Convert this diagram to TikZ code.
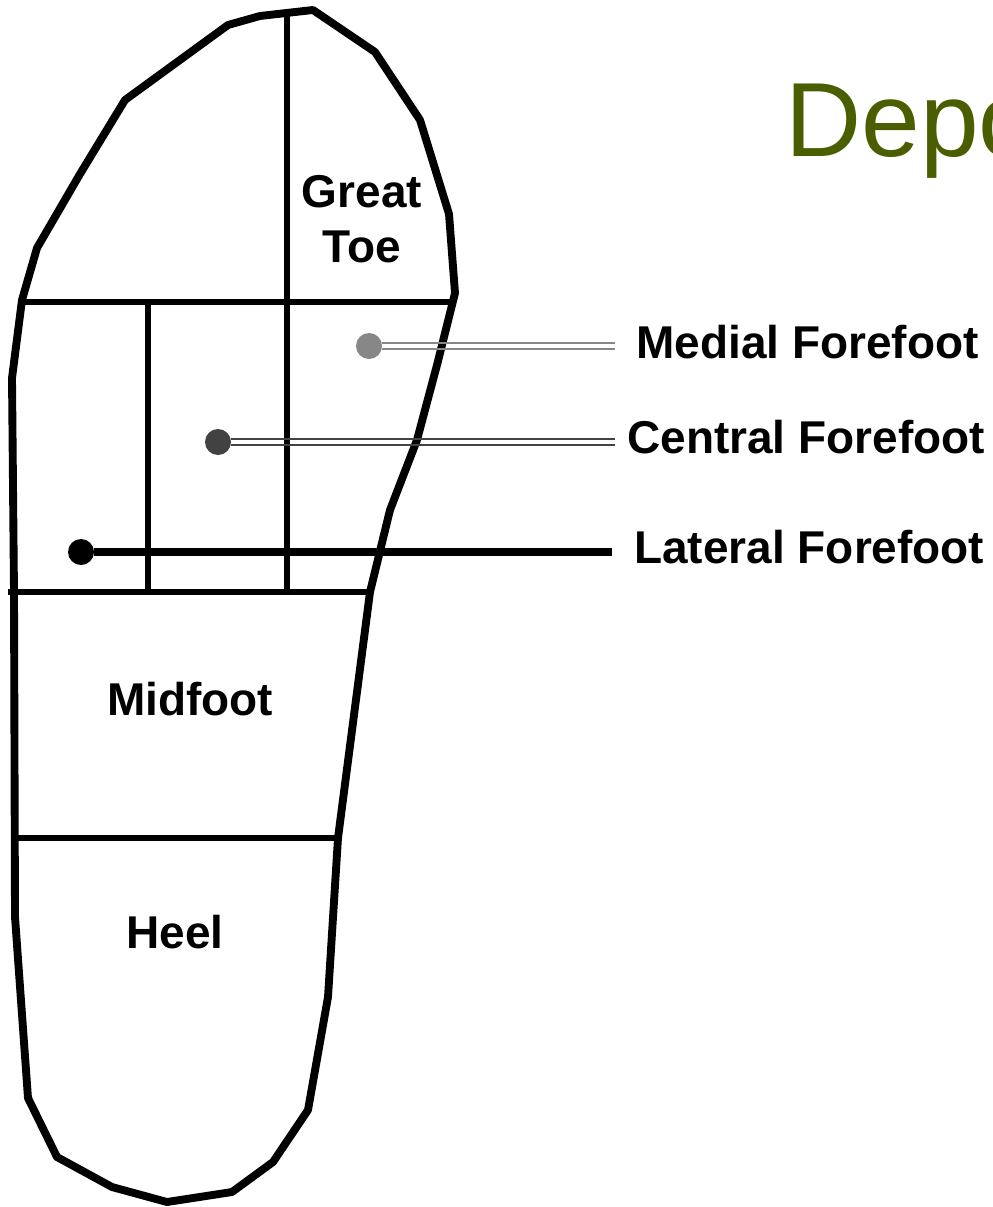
\documentclass[tikz,border=0pt]{standalone}
\usepackage{fontspec}
\setmainfont{Liberation Sans}
\definecolor{depogreen}{HTML}{4A5E00}
\definecolor{medgray}{HTML}{878787}
\definecolor{cengray}{HTML}{424242}

\begin{document}
\begin{tikzpicture}[x=0.025cm, y=-0.025cm, line join=round,
    soleline/.style={line width=5.6pt},
    zoneline/.style={line width=4.2pt},
    zonelabel/.style={font=\bfseries\fontsize{32.7}{39}\selectfont, inner sep=0pt, align=center},
    spot/.style={circle, inner sep=0pt, minimum size=0.65cm},
    leader/.style={line width=1.5pt}]
    % 枠
    \path[use as bounding box, fill=white] (0,0) rectangle (992,1207);
    \clip (0,0) rectangle (992,1207);

    % タイトル (右端で切れる)
    \node[anchor=base west, inner sep=0pt, text=depogreen, font=\fontsize{75}{90}\selectfont] (title) at (785,157) {Depo};

    % 足の輪郭
    \draw[soleline] (313,10) -- (375,52) -- (420,120) -- (449,214) -- (455,293)
        -- (437,365) -- (417,440) -- (390,510) -- (370,592) -- (338,838)
        -- (328,997) -- (308,1110) -- (273,1162) -- (232,1192) -- (167,1202)
        -- (112,1187) -- (57,1157) -- (28,1098) -- (15,917) -- (14,592)
        -- (12,378) -- (22,300) -- (37,248) -- (80,174) -- (125,100)
        -- (228,25) -- (260,16) -- cycle;

    % 区切り線
    \draw[zoneline] (287,14) -- (287,592);
    \draw[zoneline] (148,302) -- (148,592);
    \draw[zoneline] (22,302) -- (453,302);
    \draw[zoneline] (8,592) -- (370,592);
    \draw[zoneline] (17,838) -- (338,838);

    % 部位名
    \node[zonelabel] (toe) at (362,219) {Great\\Toe};
    \node[zonelabel, anchor=base] (mid) at (190,715) {Midfoot};
    \node[zonelabel, anchor=base] (heel) at (175,948) {Heel};

    % 前足部の点
    \node[spot, fill=medgray] (spotM) at (369,346) {};
    \node[spot, fill=cengray] (spotC) at (218,442) {};
    \node[spot, fill=black] (spotL) at (81,552) {};

    % 引き出しラベル
    \node[zonelabel, anchor=base west, inner xsep=0.525cm] (labM) at (615,358) {Medial Forefoot};
    \node[zonelabel, anchor=base west, inner xsep=0.3cm] (labC) at (615,453) {Central Forefoot};
    \node[zonelabel, anchor=base west, inner xsep=0.55cm] (labL) at (612,563) {Lateral Forefoot};

    % 引き出し線
    \foreach \s in {-2.1pt, 2.1pt} {
        \draw[leader, medgray, transform canvas={yshift=\s}] (spotM) -- (spotM -| labM.west);
        \draw[leader, cengray, transform canvas={yshift=\s}] (spotC) -- (spotC -| labC.west);
    }
    \draw[line width=5pt] (spotL) -- (spotL -| labL.west);
\end{tikzpicture}
\end{document}
